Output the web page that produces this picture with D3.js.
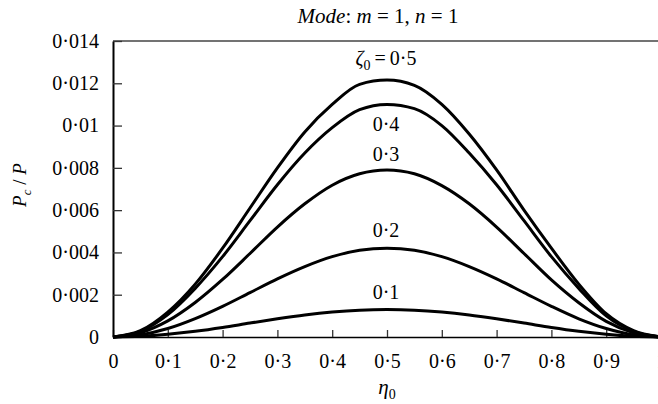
<!DOCTYPE html>
<html>
<head>
<meta charset="utf-8">
<script src="https://cdn.jsdelivr.net/npm/d3@7"></script>
<style>
	body { margin: 0; background: #fff; }
	text { font-family: "Liberation Serif", "Times New Roman", serif; fill: #000; }
</style>
</head>
<body>
<script>
	// eta_0 positions along the plate
	var eta = [ 0, 0.05, 0.1, 0.15, 0.2, 0.25, 0.3, 0.35, 0.4, 0.45, 0.5, 0.55, 0.6, 0.65, 0.7, 0.75, 0.8, 0.85, 0.9, 0.95, 1 ];

	// Pc/P for each zeta_0
	var zeta05 = [ 0, 0.0003, 0.00118, 0.0025, 0.0042, 0.0061, 0.0080, 0.0097, 0.0110, 0.01195, 0.01215, 0.0119, 0.0110, 0.0096, 0.0079, 0.0060, 0.0042, 0.0025, 0.0011, 0.0003, 0 ];
	var zeta04 = [ 0, 0.00027, 0.00106, 0.0023, 0.0038, 0.0055, 0.0072, 0.0087, 0.0099, 0.01075, 0.0110, 0.0108, 0.0100, 0.0087, 0.0072, 0.0055, 0.0038, 0.0023, 0.0010, 0.00027, 0 ];
	var zeta03 = [ 0, 0.0002, 0.00076, 0.00163, 0.00272, 0.00395, 0.0052, 0.0063, 0.00718, 0.00772, 0.0079, 0.00772, 0.00716, 0.0063, 0.0052, 0.00395, 0.0027, 0.00162, 0.00074, 0.0002, 0 ];
	var zeta02 = [ 0, 0.0001, 0.0004, 0.00087, 0.00145, 0.0021, 0.00275, 0.00333, 0.0038, 0.0041, 0.0042, 0.0041, 0.0038, 0.00333, 0.00275, 0.0021, 0.00145, 0.00086, 0.0004, 0.0001, 0 ];
	var zeta01 = [ 0, 0.00003, 0.00013, 0.00027, 0.00045, 0.00066, 0.00086, 0.00104, 0.00118, 0.00127, 0.0013, 0.00127, 0.00118, 0.00104, 0.00086, 0.00066, 0.00045, 0.00027, 0.00013, 0.00003, 0 ];

	var series = [ zeta05, zeta04, zeta03, zeta02, zeta01 ];
	var seriesLabels = [ "0·5", "0·4", "0·3", "0·2", "0·1" ];

	var xTicks = [ 0, 0.1, 0.2, 0.3, 0.4, 0.5, 0.6, 0.7, 0.8, 0.9, 1 ];
	var xTickLabels = [ "0", "0·1", "0·2", "0·3", "0·4", "0·5", "0·6", "0·7", "0·8", "0·9", "1" ];
	var yTicks = [ 0, 0.002, 0.004, 0.006, 0.008, 0.01, 0.012, 0.014 ];
	var yTickLabels = [ "0", "0·002", "0·004", "0·006", "0·008", "0·01", "0·012", "0·014" ];

	var width = 658, height = 404;
	var plotLeft = 113, plotTop = 41, plotBottom = 337, plotRight = 661;

	var x = d3.scaleLinear().domain([ 0, 1 ]).range([ plotLeft, plotRight ]);
	var y = d3.scaleLinear().domain([ 0, 0.014 ]).range([ plotBottom, plotTop ]);

	var svg = d3.select("body").append("svg")//
	.attr("width", width)//
	.attr("height", height);

	// frame top
	svg.append("line")//
	.attr("x1", plotLeft).attr("x2", width)//
	.attr("y1", plotTop).attr("y2", plotTop)//
	.attr("stroke", "#444").attr("stroke-width", 1.6);

	// x axis
	var xAxis = d3.axisBottom(x)//
	.tickValues(xTicks)//
	.tickFormat(function(d, i) {
		return xTickLabels[i];
	})//
	.tickSizeInner(-7)//
	.tickSizeOuter(0)//
	.tickPadding(17);

	var gx = svg.append("g").attr("transform", "translate(0," + plotBottom + ")").call(xAxis);
	gx.select(".domain").attr("stroke", "#000").attr("stroke-width", 1.6);
	gx.selectAll(".tick line").attr("stroke", "#333").attr("stroke-width", 1.3);
	gx.selectAll(".tick text").attr("font-size", 20);

	// y axis
	var yAxis = d3.axisLeft(y)//
	.tickValues(yTicks)//
	.tickFormat(function(d, i) {
		return yTickLabels[i];
	})//
	.tickSizeInner(-9)//
	.tickSizeOuter(0)//
	.tickPadding(14);

	var gy = svg.append("g").attr("transform", "translate(" + plotLeft + ",0)").call(yAxis);
	gy.select(".domain").attr("stroke", "#000").attr("stroke-width", 2);
	gy.selectAll(".tick line").attr("stroke", "#333").attr("stroke-width", 1.3);
	gy.selectAll(".tick text").attr("font-size", 20);

	// curves
	var line = d3.line()//
	.x(function(d, i) {
		return x(eta[i]);
	})//
	.y(function(d) {
		return y(d);
	})//
	.curve(d3.curveMonotoneX);

	svg.selectAll(".curve").data(series).enter().append("path")//
	.attr("class", "curve")//
	.attr("fill", "none")//
	.attr("stroke", "#000")//
	.attr("stroke-width", 3)//
	.attr("stroke-linejoin", "round")//
	.attr("d", line);

	// curve labels, placed near each peak
	var labelShift = [ -15, 27, -9, -11, -11 ];
	svg.selectAll(".curve-label").data(series).enter().append("text")//
	.attr("class", "curve-label")//
	.attr("x", function(d, i) {
		return x(0.5) - 1;
	})//
	.attr("y", function(d, i) {
		return y(d3.max(d)) + labelShift[i];
	})//
	.attr("text-anchor", "middle")//
	.attr("font-size", 20)//
	.each(function(d, i) {
		var t = d3.select(this);
		if (i == 0) {
			t.append("tspan").attr("font-style", "italic").text("ζ");
			t.append("tspan").attr("font-size", 14).attr("dy", 5).text("0");
			t.append("tspan").attr("dy", -5).attr("dx", 4).text("=");
			t.append("tspan").attr("dx", 4).text(seriesLabels[i]);
		} else {
			t.text(seriesLabels[i]);
		}
	});

	// title
	var title = svg.append("text").attr("x", 378).attr("y", 23).attr("text-anchor", "middle").attr("font-size", 21);
	title.append("tspan").attr("font-style", "italic").text("Mode");
	title.append("tspan").text(": ");
	title.append("tspan").attr("font-style", "italic").text("m");
	title.append("tspan").text(" = 1, ");
	title.append("tspan").attr("font-style", "italic").text("n");
	title.append("tspan").text(" = 1");

	// x label
	var xl = svg.append("text").attr("x", 387).attr("y", 394).attr("text-anchor", "middle").attr("font-size", 21);
	xl.append("tspan").attr("font-style", "italic").text("η");
	xl.append("tspan").attr("font-size", 14).attr("dy", 5).text("0");

	// y label
	var yl = svg.append("text")//
	.attr("transform", "translate(26,185) rotate(-90)")//
	.attr("text-anchor", "middle")//
	.attr("font-size", 19);
	yl.append("tspan").attr("font-style", "italic").text("P");
	yl.append("tspan").attr("font-size", 13).attr("font-style", "italic").attr("dy", 5).text("c");
	yl.append("tspan").attr("dy", -5).text(" / ");
	yl.append("tspan").attr("font-style", "italic").text("P");
</script>
</body>
</html>
